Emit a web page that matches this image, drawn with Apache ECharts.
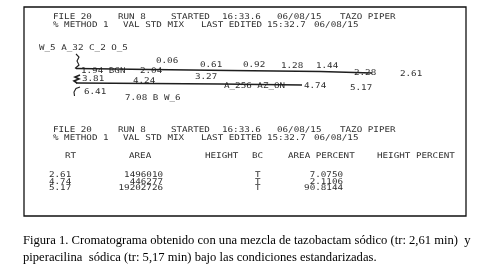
<!DOCTYPE html>
<html><head><meta charset="utf-8">
<script src="https://cdn.jsdelivr.net/npm/echarts@6/dist/echarts.min.js"></script>
<style>html,body{margin:0;padding:0;background:#fff}#c{width:481px;height:269px}</style>
</head><body><div id="c"></div>
<script>
// ---- data ----
const headerFile = 'FILE 20';
const headerRun = 'RUN 8';
const headerStarted = 'STARTED';
const headerStartTime = '16:33.6';
const headerDate = '06/08/15';
const headerName = 'TAZO PIPER';
const methodText = '% METHOD 1';
const mixText = 'VAL STD MIX';
const editedText = 'LAST EDITED';
const editedTime = '15:32.7';
const paramText = 'W_5 A_32 C_2 O_5';
// retention-time event markers printed on the trace
const traceRow1 = ['0.06', '0.61', '0.92', '1.28', '1.44', '2.28', '2.61'];
const traceRow1b = ['1.94 BGN', '2.04'];
const traceRow2 = ['3.81', '4.24', '3.27', 'A_256 AZ_ON', '4.74', '5.17'];
const traceRow3 = ['6.41', '7.08 B W_6'];
// results table
const tableHeaders = ['RT', 'AREA', 'HEIGHT', 'BC', 'AREA PERCENT', 'HEIGHT PERCENT'];
const peakRT = ['2.61', '4.74', '5.17'];
const peakArea = [1496010, 446277, 19202726];
const peakBC = ['T', 'T', 'T'];
const peakAreaPct = ['7.0750', '2.1106', '90.8144'];
const caption1 = 'Figura 1. Cromatograma obtenido con una mezcla de tazobactam sódico (tr: 2,61 min)  y';
const caption2 = 'piperacilina  sódica (tr: 5,17 min) bajo las condiciones estandarizadas.';

// ---- layout ----
const MONO = '"DejaVu Sans Mono", monospace';
const PC = '#2e2e2e';
const FS = 7.9;
const SX = 1.17;
function t(text, x, y, opt) {
  opt = opt || {};
  const size = opt.size || FS;
  const sx = opt.family ? 1 : SX;
  return {
    type: 'text', x: x, y: y, scaleX: sx, silent: true,
    style: {
      text: text, fill: opt.fill || PC,
      font: size + 'px ' + (opt.family || MONO),
      textAlign: opt.align || 'left', textVerticalAlign: 'middle'
    }
  };
}
function line(pts, w) {
  return { type: 'polyline', silent: true, shape: { points: pts },
    style: { stroke: '#1e1e1e', lineWidth: w || 1.2, fill: null } };
}
const g = [];
g.push({ type: 'rect', silent: true, shape: { x: 24, y: 7, width: 442, height: 209 },
  style: { fill: '#fff', stroke: '#111', lineWidth: 1.3 } });

function header(y) {
  g.push(t(headerFile, 53, y), t(headerRun, 118, y), t(headerStarted, 171, y),
         t(headerStartTime, 222, y), t(headerDate, 277, y), t(headerName, 340, y));
  const y2 = y + 8;
  g.push(t(methodText, 53, y2), t(mixText, 123, y2), t(editedText, 201, y2),
         t(editedTime, 267, y2), t(headerDate, 314, y2));
}
header(17);
g.push(t(paramText, 39, 48));

// trace row 1
const r1x = [156, 200, 243, 281, 316, 354, 400];
const r1y = [61, 65, 65, 66, 66, 73, 74];
traceRow1.forEach((s, i) => g.push(t(s, r1x[i], r1y[i])));
g.push(t(traceRow1b[0], 81, 71), t(traceRow1b[1], 140, 71));
// trace row 2
const r2x = [82, 133, 195, 224, 304, 350];
const r2y = [79, 81, 77, 86, 86, 88];
traceRow2.forEach((s, i) => g.push(t(s, r2x[i], r2y[i])));
// trace row 3
g.push(t(traceRow3[0], 84, 92), t(traceRow3[1], 125, 98));

// chromatogram baseline strokes
g.push(line([[76, 68.5], [150, 69.5], [230, 70.5], [320, 71.5], [372, 73]], 1.5));
g.push(line([[76, 83], [150, 83.5], [220, 84], [302, 85]], 1.5));
g.push(line([[76, 54], [79, 57], [77, 61], [79, 65], [75, 68.5]], 1.1));
g.push(line([[80, 75], [75, 77], [79, 79], [74, 81], [77, 83]], 1.6));
g.push(line([[80, 87], [76, 88.5], [74, 92], [74.5, 96]], 1.1));

// second block
header(130);
const colX = [65, 129, 205, 252, 288, 377];
tableHeaders.forEach((h, i) => g.push(t(h, colX[i], 156)));
const rowY = [175, 181.5, 188];
peakRT.forEach((rt, i) => {
  g.push(t(rt, 49, rowY[i]));
  g.push(t(String(peakArea[i]), 163, rowY[i], { align: 'right' }));
  g.push(t(peakBC[i], 255, rowY[i]));
  g.push(t(peakAreaPct[i], 343, rowY[i], { align: 'right' }));
});

// caption
const SERIF = '"Liberation Serif", serif';
g.push(t(caption1, 23, 241, { size: 12.6, family: SERIF, fill: '#000' }));
g.push(t(caption2, 23, 258, { size: 12.6, family: SERIF, fill: '#000' }));

const chart = echarts.init(document.getElementById('c'));
chart.setOption({ backgroundColor: '#fff', animation: false, graphic: g });
</script></body></html>
